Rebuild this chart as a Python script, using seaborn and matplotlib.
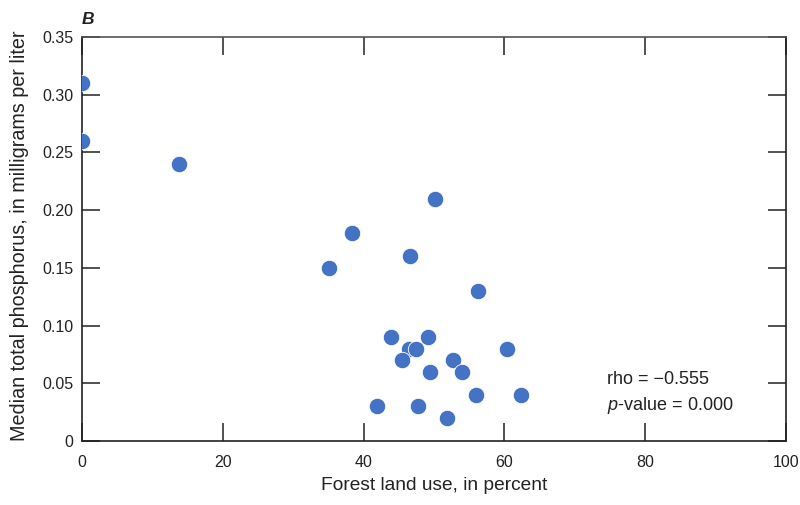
import matplotlib
matplotlib.use("Agg")
import matplotlib.pyplot as plt
from matplotlib import font_manager
import seaborn as sns
import pandas as pd

# Forest land use (percent) and median total phosphorus (mg/L) per site
forest_pct = [0.0, 0.0, 13.8, 38.4, 35.1, 50.1, 46.6, 56.3,
              43.9, 49.2, 46.5, 47.4, 60.3, 45.5, 52.7, 49.4,
              54.0, 56.0, 62.3, 41.9, 47.7, 51.8]
median_tp = [0.31, 0.26, 0.24, 0.18, 0.15, 0.21, 0.16, 0.13,
             0.09, 0.09, 0.08, 0.08, 0.08, 0.07, 0.07, 0.06,
             0.06, 0.04, 0.04, 0.03, 0.03, 0.02]
x_ticks = [0, 20, 40, 60, 80, 100]
y_ticks = [0, 0.05, 0.10, 0.15, 0.20, 0.25, 0.30, 0.35]
y_tick_labels = ["0", "0.05", "0.10", "0.15", "0.20", "0.25", "0.30", "0.35"]
rho_text = "rho = \u22120.555"
p_text = "$\\it{p}$-value = 0.000"

sns.set_theme(style="white")
names = {f.name for f in font_manager.fontManager.ttflist}
family = "Liberation Sans Narrow" if "Liberation Sans Narrow" in names else "Liberation Sans"
plt.rcParams["font.family"] = [family, "DejaVu Sans"]
plt.rcParams["mathtext.fontset"] = "custom"
plt.rcParams["mathtext.it"] = f"{family}:italic"
plt.rcParams["mathtext.rm"] = family

df = pd.DataFrame({"forest": forest_pct, "tp": median_tp})

fig = plt.figure(figsize=(8.0, 5.05), dpi=100)
ax = fig.add_axes([0.1025, 0.1267, 0.88, 0.80])

sns.scatterplot(data=df, x="forest", y="tp", ax=ax, s=140, color="#4472C4",
                edgecolor="white", linewidth=0.6, zorder=3)

ax.set_xlim(0, 100)
ax.set_ylim(0, 0.35)
ax.set_xticks(x_ticks)
ax.set_yticks(y_ticks)
ax.set_yticklabels(y_tick_labels)
ax.tick_params(direction="in", length=13, width=1.1, color="#222222",
               labelsize=11.5, labelcolor="#222222",
               top=True, right=True, bottom=True, left=True, pad=10)
ax.tick_params(axis="y", pad=6)

for side in ["left", "bottom", "right"]:
    ax.spines[side].set_color("#222222")
    ax.spines[side].set_linewidth(1.2)
ax.spines["top"].set_color("#555555")
ax.spines["top"].set_linewidth(1.2)

ax.set_xlabel("Forest land use, in percent", fontsize=13.8, color="#222222", labelpad=5)
ax.set_ylabel("Median total phosphorus, in milligrams per liter", fontsize=14.2,
              color="#222222")
ax.yaxis.set_label_coords(-53 / 704, 0.509)

ax.text(74.6, 0.053, rho_text, fontsize=13, color="#222222", va="center", ha="left")
ax.text(74.6, 0.031, p_text, fontsize=13, color="#222222", va="center", ha="left")

fig.text(88 / 800, 1 - 19 / 505, "B", fontsize=12.5, fontweight="bold",
         fontstyle="italic", va="center", ha="center", color="#222222")

fig.savefig("out.png", dpi=100, facecolor="white")
